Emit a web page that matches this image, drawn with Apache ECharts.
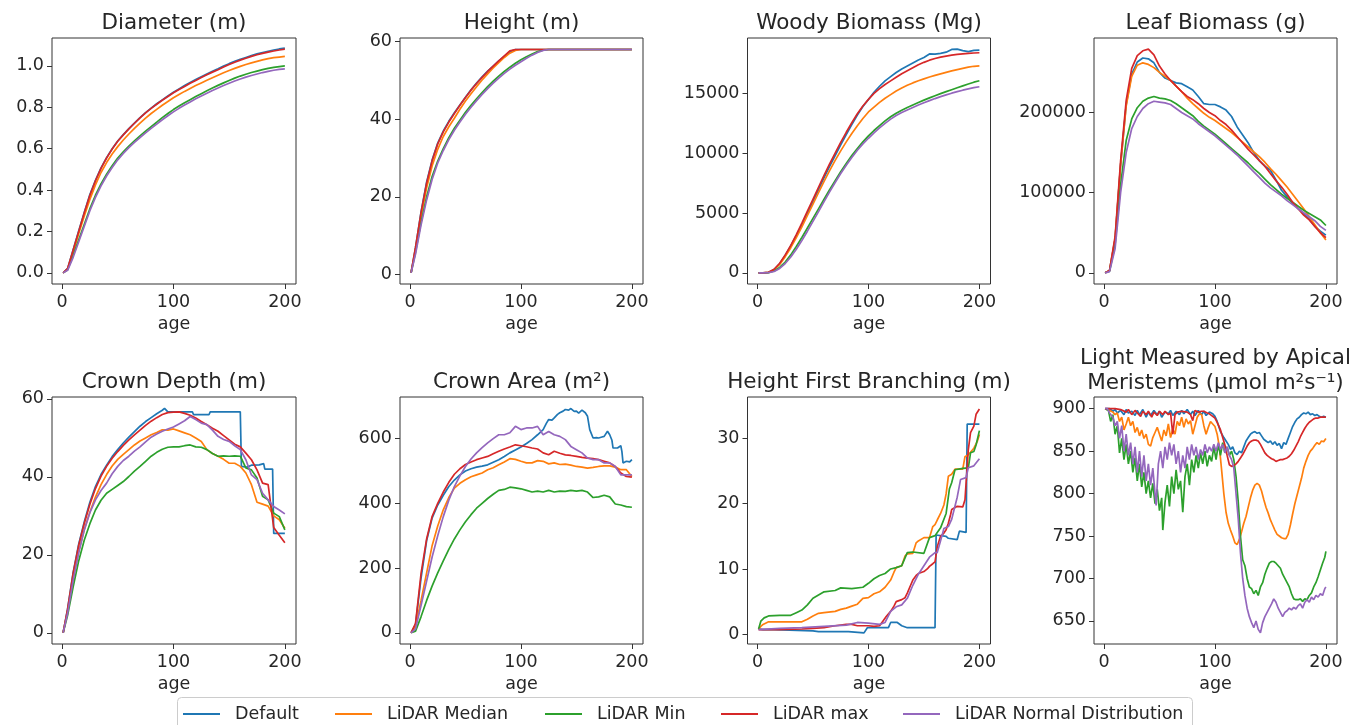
<!DOCTYPE html>
<html>
<head>
<meta charset="utf-8">
<script src="https://cdn.jsdelivr.net/npm/echarts@6/dist/echarts.min.js"></script>
<style>
html,body{margin:0;padding:0;background:#fff}
#chart{width:1362px;height:725px}
</style>
</head>
<body>
<div id="chart"></div>
<script>
// ---------- shared x grid (age, years) ----------
const AGE = [1,5,10,15,20,25,30,35,40,45,50,55,60,65,70,75,80,85,90,95,100,105,110,115,120,125,130,135,140,145,150,155,160,165,170,175,180,185,190,195,200];

const SERIES_NAMES = ['Default','LiDAR Median','LiDAR Min','LiDAR max','LiDAR Normal Distribution'];
const SERIES_COLORS = ['#1f77b4','#ff7f0e','#2ca02c','#d62728','#9467bd'];
const X_TICKS = [0,100,200];

// ---------- Diameter (m) ----------
const diamDefault = [0,0.021,0.112,0.203,0.293,0.378,0.447,0.507,0.557,0.6,0.637,0.668,0.697,0.724,0.75,0.774,0.796,0.817,0.836,0.855,0.873,0.889,0.905,0.92,0.934,0.948,0.961,0.974,0.986,0.999,1.011,1.022,1.032,1.041,1.05,1.058,1.065,1.071,1.077,1.082,1.086];
const diamMedian = [0,0.018,0.1,0.19,0.275,0.355,0.425,0.485,0.533,0.574,0.61,0.642,0.671,0.698,0.724,0.748,0.77,0.79,0.81,0.828,0.846,0.862,0.877,0.891,0.905,0.918,0.931,0.943,0.955,0.967,0.978,0.988,0.998,1.007,1.015,1.022,1.029,1.035,1.04,1.043,1.046];
const diamMin = [0,0.015,0.085,0.16,0.235,0.31,0.375,0.43,0.477,0.518,0.555,0.585,0.613,0.638,0.662,0.685,0.707,0.728,0.75,0.77,0.789,0.806,0.822,0.837,0.852,0.866,0.88,0.893,0.906,0.918,0.93,0.941,0.951,0.96,0.968,0.975,0.982,0.988,0.993,0.997,1.0];
const diamMax = [0,0.02,0.11,0.2,0.29,0.375,0.445,0.505,0.555,0.598,0.636,0.667,0.696,0.723,0.749,0.773,0.795,0.815,0.834,0.852,0.87,0.886,0.901,0.916,0.93,0.944,0.957,0.97,0.982,0.995,1.007,1.018,1.028,1.037,1.046,1.054,1.061,1.067,1.072,1.077,1.081];
const diamNormal = [0,0.012,0.075,0.15,0.225,0.3,0.365,0.42,0.468,0.509,0.546,0.577,0.605,0.63,0.654,0.676,0.698,0.719,0.74,0.759,0.778,0.795,0.811,0.826,0.841,0.855,0.868,0.881,0.893,0.905,0.916,0.927,0.937,0.946,0.954,0.961,0.968,0.974,0.979,0.983,0.986];

// ---------- Height (m) ----------
const htDefault = [0.5,7,16.2,23.8,29.5,33.8,36.9,39.4,41.6,43.6,45.6,47.5,49.2,50.8,52.3,53.6,54.9,56.1,57.3,57.85,57.85,57.85,57.85,57.85,57.85,57.85,57.85,57.85,57.85,57.85,57.85,57.85,57.85,57.85,57.85,57.85,57.85,57.85,57.85,57.85,57.85];
const htMedian = [0.5,6.5,15,22.3,28,32.2,35.5,38,40.2,42.5,44.6,46.5,48.3,50,51.6,53.1,54.5,55.8,56.9,57.6,57.85,57.85,57.85,57.85,57.85,57.85,57.85,57.85,57.85,57.85,57.85,57.85,57.85,57.85,57.85,57.85,57.85,57.85,57.85,57.85,57.85];
const htMin = [0.5,5.8,13.5,20,25.3,29.2,32.4,35.2,37.6,39.7,41.7,43.5,45.2,46.8,48.3,49.7,51,52.2,53.3,54.3,55.2,56,56.7,57.3,57.7,57.85,57.85,57.85,57.85,57.85,57.85,57.85,57.85,57.85,57.85,57.85,57.85,57.85,57.85,57.85,57.85];
const htMax = [0.5,7,16,23.5,29.3,33.6,36.7,39.2,41.4,43.5,45.5,47.4,49.1,50.7,52.2,53.6,54.9,56.2,57.5,57.85,57.85,57.85,57.85,57.85,57.85,57.85,57.85,57.85,57.85,57.85,57.85,57.85,57.85,57.85,57.85,57.85,57.85,57.85,57.85,57.85,57.85];
const htNormal = [0.5,5.3,12.8,19.2,24.5,28.7,31.9,34.7,37.1,39.2,41.2,43,44.7,46.3,47.8,49.2,50.5,51.7,52.8,53.8,54.7,55.6,56.4,57.1,57.6,57.85,57.85,57.85,57.85,57.85,57.85,57.85,57.85,57.85,57.85,57.85,57.85,57.85,57.85,57.85,57.85];

// ---------- Woody Biomass (Mg) ----------
const woodDefault = [0,0,40,280,760,1450,2250,3100,4000,4950,5950,6950,7950,8900,9800,10700,11550,12400,13200,13900,14500,15100,15600,16050,16400,16750,17050,17300,17550,17800,18000,18300,18280,18350,18450,18680,18700,18580,18500,18600,18620];
const woodMedian = [0,0,40,260,700,1350,2100,2950,3850,4800,5750,6700,7650,8550,9400,10200,10950,11650,12300,12900,13450,13850,14250,14600,14900,15200,15450,15680,15880,16060,16220,16370,16510,16640,16760,16880,16990,17100,17200,17270,17310];
const woodMin = [0,0,20,150,450,900,1500,2200,2950,3750,4550,5350,6150,6950,7700,8450,9150,9800,10400,10950,11450,11900,12300,12700,13050,13350,13600,13820,14030,14240,14440,14630,14810,14980,15150,15310,15470,15630,15790,15940,16060];
const woodMax = [0,0,50,300,800,1500,2300,3200,4150,5150,6150,7150,8150,9100,10000,10900,11750,12550,13300,13950,14500,15000,15400,15750,16050,16350,16650,16900,17150,17400,17600,17780,17920,18030,18120,18200,18260,18310,18350,18380,18400];
const woodNormal = [0,0,15,110,370,780,1320,1970,2700,3480,4300,5120,5950,6770,7550,8300,9000,9650,10250,10780,11250,11700,12120,12500,12850,13150,13400,13620,13830,14030,14220,14400,14570,14730,14880,15020,15150,15270,15380,15480,15560];

// ---------- Leaf Biomass (g) ----------
const leafDefault = [0,3000,42000,135000,210000,248000,263000,268000,267000,262000,250000,243000,240000,237000,236000,232000,228000,220000,211000,210000,210000,207000,203000,195000,182000,172000,162000,150000,140000,133000,128000,116000,103000,95000,87000,80000,74000,67000,58000,52000,47000];
const leafMedian = [0,3000,42000,135000,208000,245000,259000,262000,260000,256000,250000,245000,240000,233000,226000,218000,211000,205000,199000,194000,190000,185000,180000,175000,169000,163000,157000,151000,145000,138000,130000,123000,115000,107000,98000,89000,80000,70000,60000,50000,41000];
const leafMin = [0,2000,35000,110000,165000,192000,206000,214000,218000,220000,218000,217000,215000,211000,206000,201000,196000,189000,183000,178000,173000,167000,161000,155000,149000,143000,137000,130000,124000,117000,110000,104000,98000,93000,88000,83000,78000,74000,70000,66000,59000];
const leafMax = [0,3000,45000,140000,215000,255000,271000,277000,279000,272000,258000,248000,240000,233000,226000,220000,216000,211000,205000,200000,196000,190000,185000,178000,170000,162000,154000,147000,140000,133000,124000,115000,107000,98000,88000,80000,72000,66000,58000,50000,44000];
const leafNormal = [0,1500,30000,100000,150000,180000,195000,205000,211000,214000,213000,212000,210000,205000,200000,196000,192000,186000,181000,176000,171000,165000,159000,153000,147000,140000,133000,126000,119000,112000,106000,101000,96000,90000,85000,80000,75000,70000,65000,58000,53000];

// ---------- Crown Depth (m) ----------
const depthDefault = [[1,0],[5,6.2],[10,15.5],[15,22.8],[20,28.5],[25,33.5],[30,37.5],[35,40.6],[40,43],[45,45.2],[50,47],[55,48.7],[60,50.2],[65,51.6],[70,53],[75,54.2],[80,55.2],[85,56.2],[90,57.1],[92,57.6],[95,56.7],[117,56.7],[118,56],[132,56],[133,56.7],[160,56.7],[161,42.7],[166,42.5],[170,43],[177,43.1],[178,43.5],[181,43.4],[182,42],[189,42],[190,25.5],[200,25.5]];
const depthMedian = [0,5.5,14,21,26.5,31,34.8,38,40.6,42.8,44.5,45.8,47,48.2,49.2,50,50.8,51.4,52.1,52,52.3,51.8,51.3,50.8,50,49.1,47,46,45.3,44.5,43.5,43.5,42.7,41,38,33.5,33,32.5,30,29,26.8];
const depthMin = [0,4.5,11.8,18.5,23.8,28,31.5,34,35.8,36.8,37.8,38.8,40.1,41.5,42.7,44,45.3,46.3,47.1,47.6,47.7,47.7,48,48.2,47.7,47.6,47,46,45.3,45.4,45.3,45.4,45.3,42.3,41.8,39.7,35,34.1,30.7,29.8,26.4];
const depthMax = [0,6,15.3,22.5,28.1,33,37,40.2,42.7,44.8,46.5,48.1,49.5,50.8,52,53.2,54.3,55.2,56,56.5,56.6,56.7,56.3,55.8,55.1,54.2,53.4,52.5,51.7,50.6,49.5,48.4,47.7,46.1,44.4,41.8,38.4,38,27,25,23.1];
const depthNormal = [0,5,13.5,20.5,26.4,30.8,34.1,36.5,38.4,40.8,42.7,44.2,45.3,46.6,47.7,49,50.2,51,51.7,52.3,52.8,53.6,54.4,55.5,54.7,53.8,53.4,52,50.4,49.6,49.1,48,47,44.4,40.5,39.3,35.8,34.1,32.4,31.5,30.5];

// ---------- Crown Area (m²) ----------
const areaDefault = [[1,0],[5,25],[10,170],[15,285],[20,355],[25,395],[30,425],[35,452],[40,472],[45,488],[50,500],[55,507],[60,512],[65,515],[70,519],[75,527],[80,535],[85,545],[90,556],[95,565],[100,574],[105,585],[110,597],[115,612],[120,628],[123,648],[125,659],[128,657],[130,664],[133,675],[135,680],[138,685],[140,690],[143,688],[145,693],[148,684],[150,685],[152,679],[155,688],[158,680],[160,669],[162,628],[165,602],[168,603],[170,602],[173,605],[175,607],[178,623],[180,612],[182,595],[183,571],[187,571],[188,575],[190,578],[191,560],[192,525],[195,530],[198,528],[200,535]];
const areaMedian = [0,20,100,185,270,330,380,418,447,462,473,482,488,494,504,510,519,528,538,536,530,525,525,532,530,522,525,520,521,518,514,512,509,511,514,516,516,512,504,504,483];
const areaMin = [0,5,50,100,145,185,222,258,290,318,343,365,385,400,415,428,440,443,450,448,445,440,435,438,435,440,435,438,437,440,438,440,435,418,420,425,420,398,395,390,388];
const areaMax = [0,29,184,290,360,400,435,465,490,507,520,528,535,540,545,553,561,568,574,581,578,575,571,568,556,550,561,555,550,548,545,542,540,538,535,530,525,514,494,483,481];
const areaNormal = [0,12,85,160,235,300,359,410,452,485,514,537,556,572,587,600,612,612,618,638,628,633,633,638,612,622,612,607,597,576,566,556,540,535,535,525,525,514,488,488,488];

// ---------- Height First Branching (m) ----------
const branchDefault = [[1,0.8],[5,0.7],[15,0.7],[16,0.5],[50,0.5],[55,0.4],[82,0.4],[83,0.2],[96,0.2],[99,1.0],[118,1.0],[120,1.8],[126,1.8],[130,1.3],[135,1.0],[160,1.0],[161,15.2],[170,15.0],[172,14.7],[180,14.5],[182,15.8],[188,15.6],[189,32.2],[200,32.2]];
const branchMedian = [[1,0.8],[3,1.2],[5,1.5],[10,1.9],[20,1.9],[40,1.9],[45,2.3],[50,2.8],[55,3.2],[60,3.3],[70,3.5],[75,3.8],[80,4.0],[85,4.3],[90,4.6],[95,5.5],[100,5.6],[105,6.2],[110,6.5],[115,7.2],[120,8.3],[123,9.5],[125,10.2],[130,10.5],[133,12.0],[135,12.3],[140,12.4],[143,14.0],[145,14.3],[150,14.8],[155,14.8],[158,16.5],[160,16.8],[162,17.5],[165,18.5],[168,19.8],[170,21.5],[172,24.2],[175,24.5],[178,25.3],[185,25.3],[187,27.2],[190,27.5],[195,28.5],[198,29.5],[200,30.6]];
const branchMin = [[1,0.8],[3,2.0],[6,2.5],[10,2.8],[20,2.9],[30,2.9],[35,3.3],[40,3.7],[45,4.5],[50,5.5],[55,6.0],[60,6.5],[70,6.7],[75,7.1],[85,7.0],[95,7.2],[100,7.8],[105,8.5],[110,9.0],[115,9.3],[120,10.0],[125,10.2],[130,10.5],[135,12.5],[140,12.6],[150,12.4],[155,14.8],[160,15.1],[165,16.3],[170,18.5],[173,22.3],[175,23.2],[178,25.2],[185,25.4],[190,25.5],[192,27.8],[195,28.0],[197,29.0],[200,31.2]];
const branchMax = [[1,0.7],[20,0.7],[40,0.8],[50,0.9],[60,1.0],[70,1.3],[80,1.5],[85,1.5],[90,1.3],[100,1.3],[105,1.2],[110,1.3],[113,2.0],[116,2.7],[120,3.5],[123,4.3],[125,5.0],[130,5.3],[133,5.6],[135,6.3],[138,7.5],[140,8.3],[143,9.0],[145,9.3],[150,9.6],[153,10.0],[155,10.4],[158,10.8],[160,11.1],[162,13.4],[165,15.0],[168,15.5],[170,16.0],[172,17.0],[174,18.3],[175,19.1],[180,19.6],[185,19.5],[187,20.6],[190,28.3],[192,30.9],[195,31.9],[197,33.7],[200,34.5]];
const branchNormal = [[1,0.7],[20,0.9],[40,1.0],[60,1.2],[80,1.4],[90,1.8],[100,1.7],[110,1.5],[115,1.8],[120,3.5],[125,4.2],[130,4.5],[135,5.5],[140,7.5],[145,9.2],[150,10.5],[155,11.8],[160,12.5],[162,12.5],[165,14.3],[168,16.2],[172,16.5],[175,17.6],[180,21.0],[183,23.7],[188,24.0],[190,25.5],[195,25.8],[200,26.9]];

// ---------- Light Measured by Apical Meristems ----------
const lightDefault = [[1,900],[5,900],[8,897],[10,899],[12,895],[15,898],[18,893],[20,899],[22,895],[25,897],[28,892],[30,898],[32,893],[35,899],[38,890],[40,896],[42,892],[45,898],[48,893],[50,897],[52,890],[55,896],[58,894],[60,898],[62,892],[65,897],[68,893],[70,898],[72,894],[75,899],[78,893],[80,897],[82,892],[85,898],[88,893],[90,897],[92,892],[95,896],[98,894],[100,891],[102,885],[105,873],[108,866],[110,862],[112,858],[114,852],[116,855],[118,848],[120,846],[122,850],[124,848],[126,855],[128,862],[130,866],[132,870],[134,872],[136,873],[138,871],[140,872],[142,868],[144,864],[146,862],[148,860],[150,862],[152,858],[154,861],[156,857],[158,859],[160,853],[162,860],[164,858],[166,865],[168,872],[170,879],[172,884],[174,888],[176,890],[178,893],[180,895],[182,894],[184,896],[186,893],[188,894],[190,892],[192,893],[194,891],[196,890],[198,891],[200,890]];
const lightMedian = [[1,900],[5,898],[8,896],[10,893],[12,895],[14,885],[16,890],[18,875],[20,882],[22,890],[24,880],[26,885],[28,872],[30,878],[32,868],[34,875],[36,865],[38,870],[40,858],[42,856],[44,866],[46,872],[48,878],[50,870],[52,862],[54,875],[56,868],[58,882],[60,866],[62,876],[64,870],[66,885],[68,880],[70,890],[72,878],[74,888],[76,882],[78,886],[80,870],[82,880],[84,890],[86,894],[88,893],[90,880],[92,870],[94,878],[96,885],[98,882],[100,879],[102,870],[104,855],[106,828],[108,800],[110,778],[112,765],[114,757],[116,750],[118,742],[120,740],[122,746],[124,755],[126,765],[128,773],[130,784],[132,795],[134,804],[136,810],[138,812],[140,810],[142,803],[144,793],[146,784],[148,777],[150,769],[152,763],[154,757],[156,752],[158,750],[160,748],[162,747],[164,747],[166,752],[168,763],[170,776],[172,788],[174,798],[176,808],[178,818],[180,830],[182,838],[184,845],[186,850],[188,853],[190,857],[192,860],[194,858],[196,862],[198,861],[200,865]];
const lightMin = [[1,900],[2,900],[4,898],[6,885],[8,893],[10,870],[12,880],[14,848],[16,865],[18,840],[20,858],[22,835],[24,850],[26,825],[28,842],[30,815],[32,835],[34,808],[36,825],[38,800],[40,815],[42,795],[44,812],[46,788],[48,805],[50,780],[52,795],[53,757],[55,790],[57,810],[59,785],[61,820],[63,800],[65,828],[67,805],[69,815],[71,778],[73,820],[75,835],[77,810],[79,840],[81,825],[83,845],[85,830],[87,848],[89,835],[91,850],[93,832],[95,845],[97,838],[99,855],[101,840],[103,858],[105,845],[107,860],[109,848],[111,855],[113,845],[115,850],[117,840],[119,820],[121,790],[123,750],[125,722],[127,715],[129,700],[131,690],[133,688],[135,682],[137,686],[139,680],[141,690],[143,695],[145,705],[147,712],[149,718],[151,720],[153,720],[155,718],[157,715],[159,712],[161,705],[163,700],[165,695],[167,690],[169,682],[171,676],[173,675],[175,675],[177,676],[179,673],[181,676],[183,675],[185,680],[187,683],[189,690],[191,695],[193,702],[195,710],[197,718],[199,725],[200,732]];
const lightMax = [[1,900],[10,900],[15,899],[20,896],[22,899],[25,893],[28,898],[30,895],[33,891],[35,897],[38,893],[40,897],[43,890],[45,896],[48,892],[50,897],[53,893],[55,897],[58,893],[60,895],[62,870],[64,893],[66,896],[70,897],[75,896],[78,893],[80,886],[82,898],[85,896],[88,897],[90,897],[93,895],[95,894],[98,891],[100,889],[102,884],[105,875],[107,866],[109,857],[111,845],[113,834],[115,832],[117,833],[119,835],[121,838],[123,842],[125,846],[127,851],[129,856],[131,860],[133,862],[135,863],[137,863],[139,862],[141,858],[143,853],[145,848],[147,845],[149,843],[151,841],[153,840],[155,838],[157,839],[159,840],[161,840],[163,841],[165,842],[167,844],[169,847],[171,851],[173,856],[175,861],[177,867],[179,872],[181,877],[183,881],[185,884],[187,886],[189,888],[191,889],[193,889],[195,890],[197,890],[200,890]];
const lightNormal = [[1,900],[3,900],[5,895],[8,890],[10,880],[12,885],[14,865],[16,880],[18,850],[20,870],[22,845],[24,860],[26,835],[28,855],[30,825],[32,850],[34,820],[36,845],[38,815],[40,835],[42,810],[44,830],[46,800],[47,786],[49,835],[51,850],[53,830],[55,855],[57,840],[59,860],[61,845],[63,858],[65,835],[67,850],[69,825],[71,845],[73,830],[75,855],[77,840],[79,858],[81,845],[83,855],[85,840],[87,852],[89,845],[91,858],[93,848],[95,855],[97,850],[99,858],[101,850],[103,860],[105,852],[107,858],[109,848],[111,855],[113,845],[115,840],[117,830],[119,800],[121,770],[123,730],[125,700],[127,680],[129,665],[131,655],[133,648],[135,642],[137,650],[139,640],[141,636],[143,648],[145,655],[147,660],[149,665],[151,670],[153,676],[155,672],[157,665],[159,660],[161,655],[163,660],[165,662],[167,665],[169,663],[171,666],[173,664],[175,668],[177,670],[179,665],[181,672],[183,675],[185,672],[187,678],[189,675],[191,680],[193,678],[195,682],[197,680],[199,688],[200,690]];

// ---------- panel layout ----------
const FONT = 'DejaVu Sans';
const TEXT = '#262626';
const intFmt = v => String(v);

const panels = [
  {title:'Diameter (m)', box:[52,38,244,246], y:[-0.054,1.135], ticks:[0,0.2,0.4,0.6,0.8,1.0], fmt:v=>v.toFixed(1),
   data:[diamDefault,diamMedian,diamMin,diamMax,diamNormal]},
  {title:'Height (m)', box:[400,38,243,246], y:[-2.4,60.8], ticks:[0,20,40,60], fmt:intFmt,
   data:[htDefault,htMedian,htMin,htMax,htNormal]},
  {title:'Woody Biomass (Mg)', box:[747.5,38,243,246], y:[-935,19635], ticks:[0,5000,10000,15000], fmt:intFmt,
   data:[woodDefault,woodMedian,woodMin,woodMax,woodNormal]},
  {title:'Leaf Biomass (g)', box:[1094,38,243,246], y:[-13950,292950], ticks:[0,100000,200000], fmt:intFmt,
   data:[leafDefault,leafMedian,leafMin,leafMax,leafNormal]},
  {title:'Crown Depth (m)', box:[52,397,244,247], y:[-2.88,60.5], ticks:[0,20,40,60], fmt:intFmt,
   data:[depthDefault,depthMedian,depthMin,depthMax,depthNormal]},
  {title:'Crown Area (m²)', box:[400,397,243,247], y:[-34.7,728.7], ticks:[0,200,400,600], fmt:intFmt,
   data:[areaDefault,areaMedian,areaMin,areaMax,areaNormal]},
  {title:'Height First Branching (m)', box:[747.5,397,243,247], y:[-1.5,36.35], ticks:[0,10,20,30], fmt:intFmt,
   data:[branchDefault,branchMedian,branchMin,branchMax,branchNormal]},
  {title:'Light Measured by Apical\nMeristems (µmol m²s⁻¹)', box:[1094,397,243,247], y:[622.8,913.8], ticks:[650,700,750,800,850,900], fmt:intFmt,
   data:[lightDefault,lightMedian,lightMin,lightMax,lightNormal], twoLine:true}
];

// values aligned with AGE become [age, value] pairs; pair lists pass through
function toPoints(vals) {
  return Array.isArray(vals[0]) ? vals : vals.map((v, k) => [AGE[k], v]);
}

const grids = [], xAxes = [], yAxes = [], series = [], graphics = [];

panels.forEach((p, i) => {
  const [l, t, w, h] = p.box;
  grids.push({left:l, top:t, width:w, height:h, show:true, borderColor:'#333', borderWidth:1,
              backgroundColor:'#fff', containLabel:false, outerBoundsMode:'none'});
  xAxes.push({
    type:'value', gridIndex:i, min:-9, max:210, position:'bottom',
    name:'age', nameLocation:'middle', nameGap:31,
    nameTextStyle:{fontFamily:FONT, fontSize:17.5, color:TEXT},
    axisLine:{show:false, onZero:false}, splitLine:{show:false},
    axisTick:{show:true, length:5, lineStyle:{color:'#333'}, customValues:X_TICKS},
    axisLabel:{fontFamily:FONT, fontSize:17.5, color:TEXT, margin:9, customValues:X_TICKS, formatter:intFmt}
  });
  yAxes.push({
    type:'value', gridIndex:i, min:p.y[0], max:p.y[1], position:'left',
    axisLine:{show:false, onZero:false}, splitLine:{show:false},
    axisTick:{show:true, length:5, lineStyle:{color:'#333'}, customValues:p.ticks},
    axisLabel:{fontFamily:FONT, fontSize:17.5, color:TEXT, margin:8, customValues:p.ticks, formatter:p.fmt}
  });
  p.data.forEach((vals, s) => {
    series.push({
      type:'line', name:SERIES_NAMES[s], xAxisIndex:i, yAxisIndex:i,
      data:toPoints(vals), showSymbol:false, symbol:'none', animation:false,
      lineStyle:{width:1.7, color:SERIES_COLORS[s]}, itemStyle:{color:SERIES_COLORS[s]},
      z:2+s
    });
  });
  graphics.push({
    type:'text', x:l + w/2, y:p.twoLine ? t - 26 : t - 15, z:10,
    style:{text:p.title, fill:TEXT, font:`21.5px "${FONT}"`, align:'center', verticalAlign:'middle', lineHeight:25}
  });
});

// legend frame
graphics.push({
  type:'rect', z:0, shape:{x:177.5, y:697.5, width:1015, height:40, r:4},
  style:{fill:'#fff', stroke:'#cccccc', lineWidth:1}
});

const LEGEND_LEFT = [183, 335, 545, 721, 903];
const legends = SERIES_NAMES.map((name, s) => ({
  data:[name], left:LEGEND_LEFT[s], top:705, padding:0, z:20,
  icon:'rect', itemWidth:37, itemHeight:2.2, selectedMode:false,
  textStyle:{fontFamily:FONT, fontSize:17.5, color:TEXT, padding:[0,0,0,10]}
}));

const chart = echarts.init(document.getElementById('chart'), null, {renderer:'canvas'});
chart.setOption({
  animation:false,
  backgroundColor:'#fff',
  textStyle:{fontFamily:FONT},
  grid:grids, xAxis:xAxes, yAxis:yAxes, series:series,
  legend:legends,
  graphic:graphics
});
</script>
</body>
</html>
